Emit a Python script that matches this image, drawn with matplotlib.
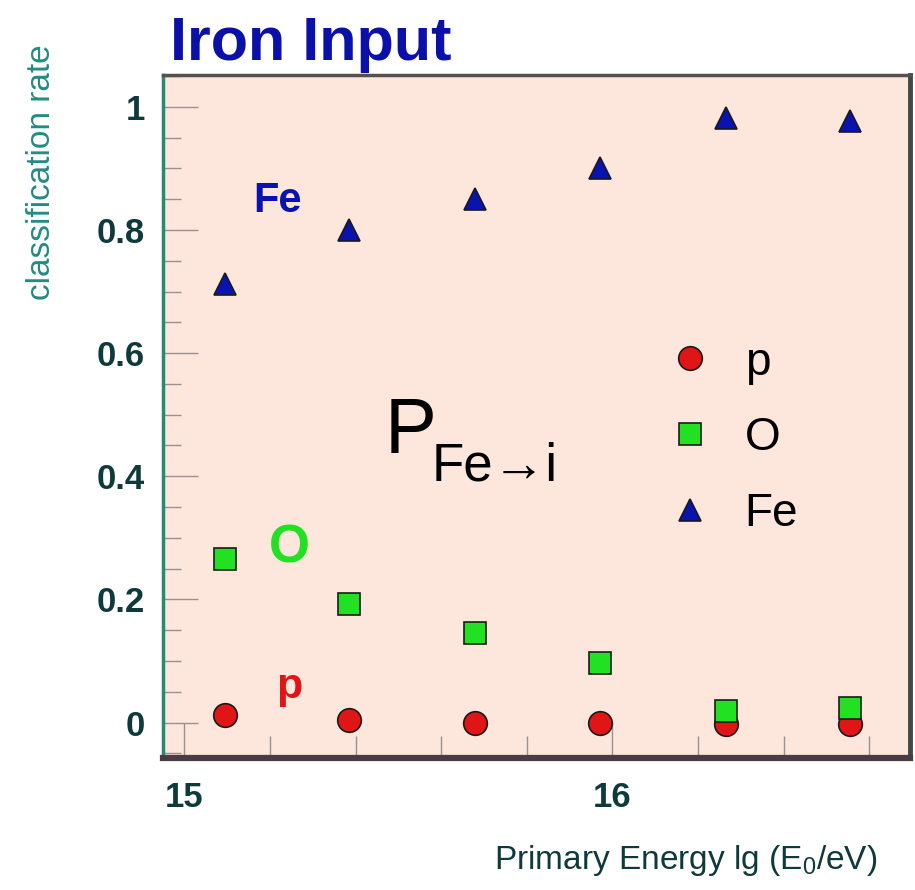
import matplotlib
matplotlib.use("Agg")
import matplotlib.pyplot as plt
from matplotlib.ticker import MultipleLocator, FixedLocator

plt.rcParams['font.family'] = ['Liberation Sans', 'DejaVu Sans']
plt.rcParams['mathtext.fontset'] = 'custom'
plt.rcParams['mathtext.rm'] = 'Liberation Sans'
plt.rcParams['mathtext.it'] = 'Liberation Sans:italic'

# Classification rates of an iron primary vs. lg(E0/eV)
energies = [15.095, 15.385, 15.68, 15.97, 16.265, 16.555]
rate_p = [0.012, 0.004, 0.0, 0.0, -0.002, -0.002]
rate_O = [0.265, 0.192, 0.146, 0.097, 0.018, 0.024]
rate_Fe = [0.713, 0.800, 0.850, 0.900, 0.982, 0.977]

species = ['p', 'O', 'Fe']
colors = {'p': '#e01515', 'O': '#22e022', 'Fe': '#0a12b0'}
markers = {'p': 'o', 'O': 's', 'Fe': '^'}
sizes = {'p': 17, 'O': 15.5, 'Fe': 16.5}
rates = {'p': rate_p, 'O': rate_O, 'Fe': rate_Fe}

ink = '#0f3a3c'

fig = plt.figure(figsize=(9.15, 8.9), dpi=100)
ax = fig.add_axes([0.178, 0.148, 0.8165, 0.768])
ax.set_facecolor('#fde7dd')

for name in species:
    ax.plot(energies, rates[name], linestyle='none', marker=markers[name],
            markersize=sizes[name], markerfacecolor=colors[name],
            markeredgecolor='#1a1a1a', markeredgewidth=1.2, label=name)

ax.set_xlim(14.95, 16.695)
ax.set_ylim(-0.058, 1.052)

ax.xaxis.set_major_locator(FixedLocator([15, 16]))
ax.xaxis.set_minor_locator(MultipleLocator(0.2))
ax.yaxis.set_major_locator(MultipleLocator(0.2))
ax.yaxis.set_minor_locator(MultipleLocator(0.05))
ax.yaxis.set_major_formatter(plt.FuncFormatter(lambda v, p: '%g' % round(v, 2)))

ax.tick_params(which='both', direction='in', colors='#9a9090', labelcolor=ink,
               labelsize=25, width=1.0)
ax.tick_params(which='major', length=25)
ax.tick_params(which='minor', length=13)
ax.tick_params(axis='x', which='minor', length=16)
ax.tick_params(axis='x', pad=16)
ax.tick_params(axis='y', pad=13)
for lbl in ax.get_xticklabels() + ax.get_yticklabels():
    lbl.set_fontweight('semibold')

ax.spines['left'].set_color('#2a8878')
ax.spines['left'].set_linewidth(2.5)
ax.spines['bottom'].set_color('#4a3c44')
ax.spines['bottom'].set_linewidth(4.5)
ax.spines['top'].set_color('#555050')
ax.spines['top'].set_linewidth(2.5)
ax.spines['right'].set_color('#3c4a48')
ax.spines['right'].set_linewidth(3.5)

# species tags inside the frame
ax.text(15.217, 0.847, 'Fe', color=colors['Fe'], fontsize=30, fontweight='bold',
        ha='center', va='center')
ax.text(15.245, 0.282, 'O', color=colors['O'], fontsize=38, fontweight='bold',
        ha='center', va='center')
ax.text(15.245, 0.057, 'p', color=colors['p'], fontsize=31, fontweight='bold',
        ha='center', va='center')

# transition probability label
ax.text(15.467, 0.438, 'P', fontsize=56, color='black', ha='left', va='baseline')
ax.text(15.577, 0.393, 'Fe\u2192i', fontsize=38, color='black', ha='left',
        va='baseline', family=['Liberation Sans', 'DejaVu Sans'])

leg = ax.legend(loc='upper left', bbox_to_anchor=(0.653, 0.638), frameon=False,
                fontsize=33, handlelength=0.9, handletextpad=0.75,
                labelspacing=0.69, borderaxespad=0)
for txt in leg.get_texts():
    txt.set_color('black')

fig.text(0.186, 1 - 60 / 890, 'Iron Input', color='#0a10a8', fontsize=44,
         fontweight='bold', ha='left', va='baseline')
fig.text(42 / 915, 1 - 172 / 890, 'classification rate', color='#238a84',
         fontsize=24, rotation=90, ha='center', va='center')
fig.text(877 / 915, 1 - 860 / 890, r'Primary Energy lg (E$_0$/eV)', color=ink,
         fontsize=24, ha='right', va='center')

fig.savefig('out.png', dpi=100, facecolor='white')
